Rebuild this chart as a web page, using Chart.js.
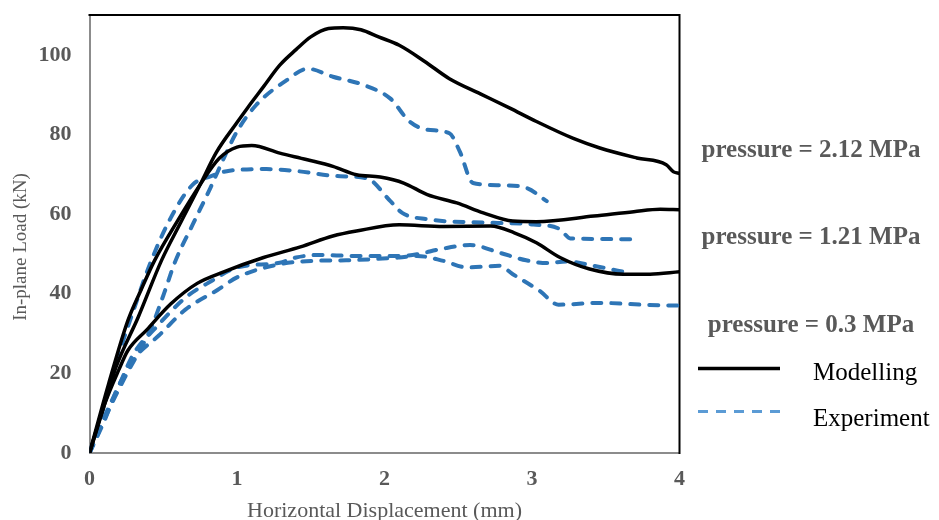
<!DOCTYPE html>
<html>
<head>
<meta charset="utf-8">
<script src="https://cdn.jsdelivr.net/npm/chart.js@4.4.1/dist/chart.umd.min.js"></script>
<style>
  html, body { margin: 0; padding: 0; background: #fff; }
  canvas { display: block; }
</style>
</head>
<body>
<canvas id="chart" width="939" height="520"></canvas>
<script>
// axis ticks
var xTicks = [0, 1, 2, 3, 4];
var yTicks = [0, 20, 40, 60, 80, 100];

// modelling curves, [displacement mm, load kN]
var model212 = [[0,0],[0.1,12],[0.18,21.6],[0.33,34.1],[0.49,48.5],[0.62,58],[0.75,67.4],[0.86,75.5],[1.0,83],[1.07,86.6],[1.18,92],[1.29,97.4],[1.4,101.3],[1.5,104.5],[1.62,106.6],[1.72,106.8],[1.84,106.3],[1.96,104.5],[2.1,102.4],[2.27,98.4],[2.44,94],[2.65,90.2],[2.85,86.6],[3.03,83.25],[3.28,79],[3.46,76.6],[3.71,74.1],[3.91,72.4],[3.96,70.6],[4.0,70.2]];
var model121 = [[0,0],[0.13,17.4],[0.26,33.25],[0.35,41],[0.44,48.25],[0.6,58.5],[0.75,67.4],[0.88,74],[1.0,76.8],[1.1,77.2],[1.29,75.3],[1.47,73.7],[1.65,72],[1.81,69.9],[1.97,69.3],[2.13,67.8],[2.29,64.9],[2.49,62.8],[2.67,60.3],[2.87,58.25],[3.03,58.1],[3.42,59.5],[3.69,60.6],[3.87,61.2],[4.0,61.1]];
var model03 = [[0,0],[0.1,12],[0.2,21],[0.26,25.75],[0.39,31],[0.55,37.4],[0.73,42.6],[0.91,45.5],[1.18,49.1],[1.43,51.75],[1.65,54.5],[1.81,55.75],[2.1,57.3],[2.4,56.9],[2.72,57],[2.88,55.3],[3.03,52.8],[3.19,49.1],[3.39,46.2],[3.62,44.9],[3.8,44.9],[4.0,45.5]];

// experiment curves
var exp212 = [[0,0],[0.12,10],[0.24,19],[0.42,31.6],[0.5,39.5],[0.58,48],[0.7,57.4],[0.82,66.6],[0.91,74],[1.0,80.75],[1.13,87.4],[1.34,93.7],[1.48,96.5],[1.65,94.5],[1.86,92.4],[2.04,89],[2.17,83.25],[2.29,81.2],[2.44,80.3],[2.51,75.75],[2.6,67.8],[2.78,67.25],[2.96,66.6],[3.1,63.25]];
var exp121 = [[0,0],[0.1,12],[0.2,25],[0.3,36],[0.41,47.5],[0.55,59],[0.7,67.4],[0.82,69.5],[0.95,70.9],[1.2,71.3],[1.38,70.9],[1.7,69.5],[1.88,69],[2.04,63.25],[2.12,60.3],[2.29,58.7],[2.74,57.8],[3.01,57.4],[3.19,56.2],[3.26,53.9],[3.73,53.7]];
var exp03a = [[0,0],[0.1,9],[0.2,17],[0.3,25],[0.45,31.5],[0.65,39],[0.83,43.25],[1.0,46.6],[1.29,47.8],[1.4,49.1],[1.56,49.75],[1.79,49.5],[2.1,49.5],[2.22,49.9],[2.38,51.2],[2.58,52.25],[2.78,50.3],[2.96,48.4],[3.1,47.7],[3.24,48.1],[3.42,47],[3.66,45.2]];
var exp03b = [[0,0],[0.1,8],[0.195,16.6],[0.31,24],[0.47,29.5],[0.65,36],[0.87,41],[1.0,44.1],[1.29,47.4],[1.52,48.25],[1.74,48.4],[2.1,49.1],[2.22,49.5],[2.4,48.25],[2.56,46.6],[2.78,47],[2.87,44.9],[3.05,40.75],[3.18,37.25],[3.46,37.7],[3.75,37.25],[4.0,37]];

var pressureLabels = ['pressure = 2.12 MPa', 'pressure = 1.21 MPa', 'pressure = 0.3 MPa'];
var legendLabels = ['Modelling', 'Experiment'];
var yTitle = 'In-plane Load (kN)';

var SERIF = '"Liberation Serif", "Times New Roman", serif';
var GREY = '#595959';
var BLUE = '#2e75b6';
var LEGEND_BLUE = '#5b9bd5';

function pts(a){ return a.map(function(p){ return { x: p[0], y: p[1] }; }); }
function modelSet(a){
  return { data: pts(a), borderColor: '#000', borderWidth: 3.5, borderJoinStyle: 'round',
    pointRadius: 0, showLine: true, fill: false, cubicInterpolationMode: 'monotone' };
}
function expSet(a){
  return { data: pts(a), borderColor: BLUE, borderWidth: 4, borderDash: [9, 10], borderCapStyle: 'round',
    pointRadius: 0, showLine: true, fill: false, cubicInterpolationMode: 'monotone' };
}

// top/right frame lines are black, left/bottom come from the axes
var framePlugin = {
  id: 'frame',
  beforeDatasetsDraw: function(chart){
    var a = chart.chartArea, ctx = chart.ctx;
    ctx.save();
    ctx.strokeStyle = '#000'; ctx.lineWidth = 2;
    ctx.beginPath();
    ctx.moveTo(a.left - 1, a.top); ctx.lineTo(a.right, a.top); ctx.lineTo(a.right, a.bottom + 1);
    ctx.stroke();
    ctx.restore();
  }
};

var notesPlugin = {
  id: 'notes',
  afterDraw: function(chart){
    var ctx = chart.ctx;
    ctx.save();
    // y axis title (sits a little below the plot centre in the original)
    ctx.save();
    ctx.translate(26, 247); ctx.rotate(-Math.PI / 2);
    ctx.font = '19px ' + SERIF; ctx.fillStyle = GREY;
    ctx.textAlign = 'center'; ctx.textBaseline = 'alphabetic';
    ctx.fillText(yTitle, 0, 0);
    ctx.restore();

    ctx.font = 'bold 25px ' + SERIF; ctx.fillStyle = GREY;
    ctx.textAlign = 'center'; ctx.textBaseline = 'alphabetic';
    var base = [157, 244, 332];
    pressureLabels.forEach(function(t, i){ ctx.fillText(t, 811, base[i]); });

    // legend
    ctx.lineWidth = 3.5; ctx.strokeStyle = '#000';
    ctx.beginPath(); ctx.moveTo(698, 368.5); ctx.lineTo(780, 368.5); ctx.stroke();
    ctx.lineWidth = 3; ctx.strokeStyle = LEGEND_BLUE; ctx.setLineDash([10, 8]);
    ctx.beginPath(); ctx.moveTo(698, 411.5); ctx.lineTo(780, 411.5); ctx.stroke();
    ctx.setLineDash([]);
    ctx.font = '25px ' + SERIF; ctx.fillStyle = '#000'; ctx.textAlign = 'left';
    ctx.fillText(legendLabels[0], 813, 380);
    ctx.fillText(legendLabels[1], 813, 426);
    ctx.restore();
  }
};

new Chart(document.getElementById('chart'), {
  type: 'scatter',
  data: {
    datasets: [
      modelSet(model212), modelSet(model121), modelSet(model03),
      expSet(exp212), expSet(exp121), expSet(exp03a), expSet(exp03b)
    ]
  },
  options: {
    responsive: false,
    animation: false,
    devicePixelRatio: 1,
    layout: { padding: { left: 0, right: 259.5, top: 0, bottom: 0 } },
    plugins: { legend: { display: false }, tooltip: { enabled: false } },
    scales: {
      x: {
        type: 'linear', min: 0, max: 4,
        afterBuildTicks: function(s){ s.ticks = xTicks.map(function(v){ return { value: v }; }); },
        afterFit: function(s){ s.height = 67; },
        grid: { display: false },
        border: { display: true, color: '#8c8c8c', width: 2 },
        ticks: { padding: 5, color: GREY, font: { family: SERIF, size: 22, weight: 'bold' } },
        title: { display: true, text: 'Horizontal Displacement (mm)', color: GREY,
          font: { family: SERIF, size: 22 }, padding: { top: 0, bottom: -4 } }
      },
      y: {
        type: 'linear', min: 0, max: 110,
        afterBuildTicks: function(s){ s.ticks = yTicks.map(function(v){ return { value: v }; }); },
        afterFit: function(s){ s.width = 89.5; s.paddingTop = 15; s.paddingBottom = 0; },
        grid: { display: false },
        border: { display: true, color: '#8c8c8c', width: 2 },
        ticks: { padding: 10, color: GREY, font: { family: SERIF, size: 22, weight: 'bold' } },
        title: { display: false }
      }
    }
  },
  plugins: [framePlugin, notesPlugin]
});
</script>
</body>
</html>
